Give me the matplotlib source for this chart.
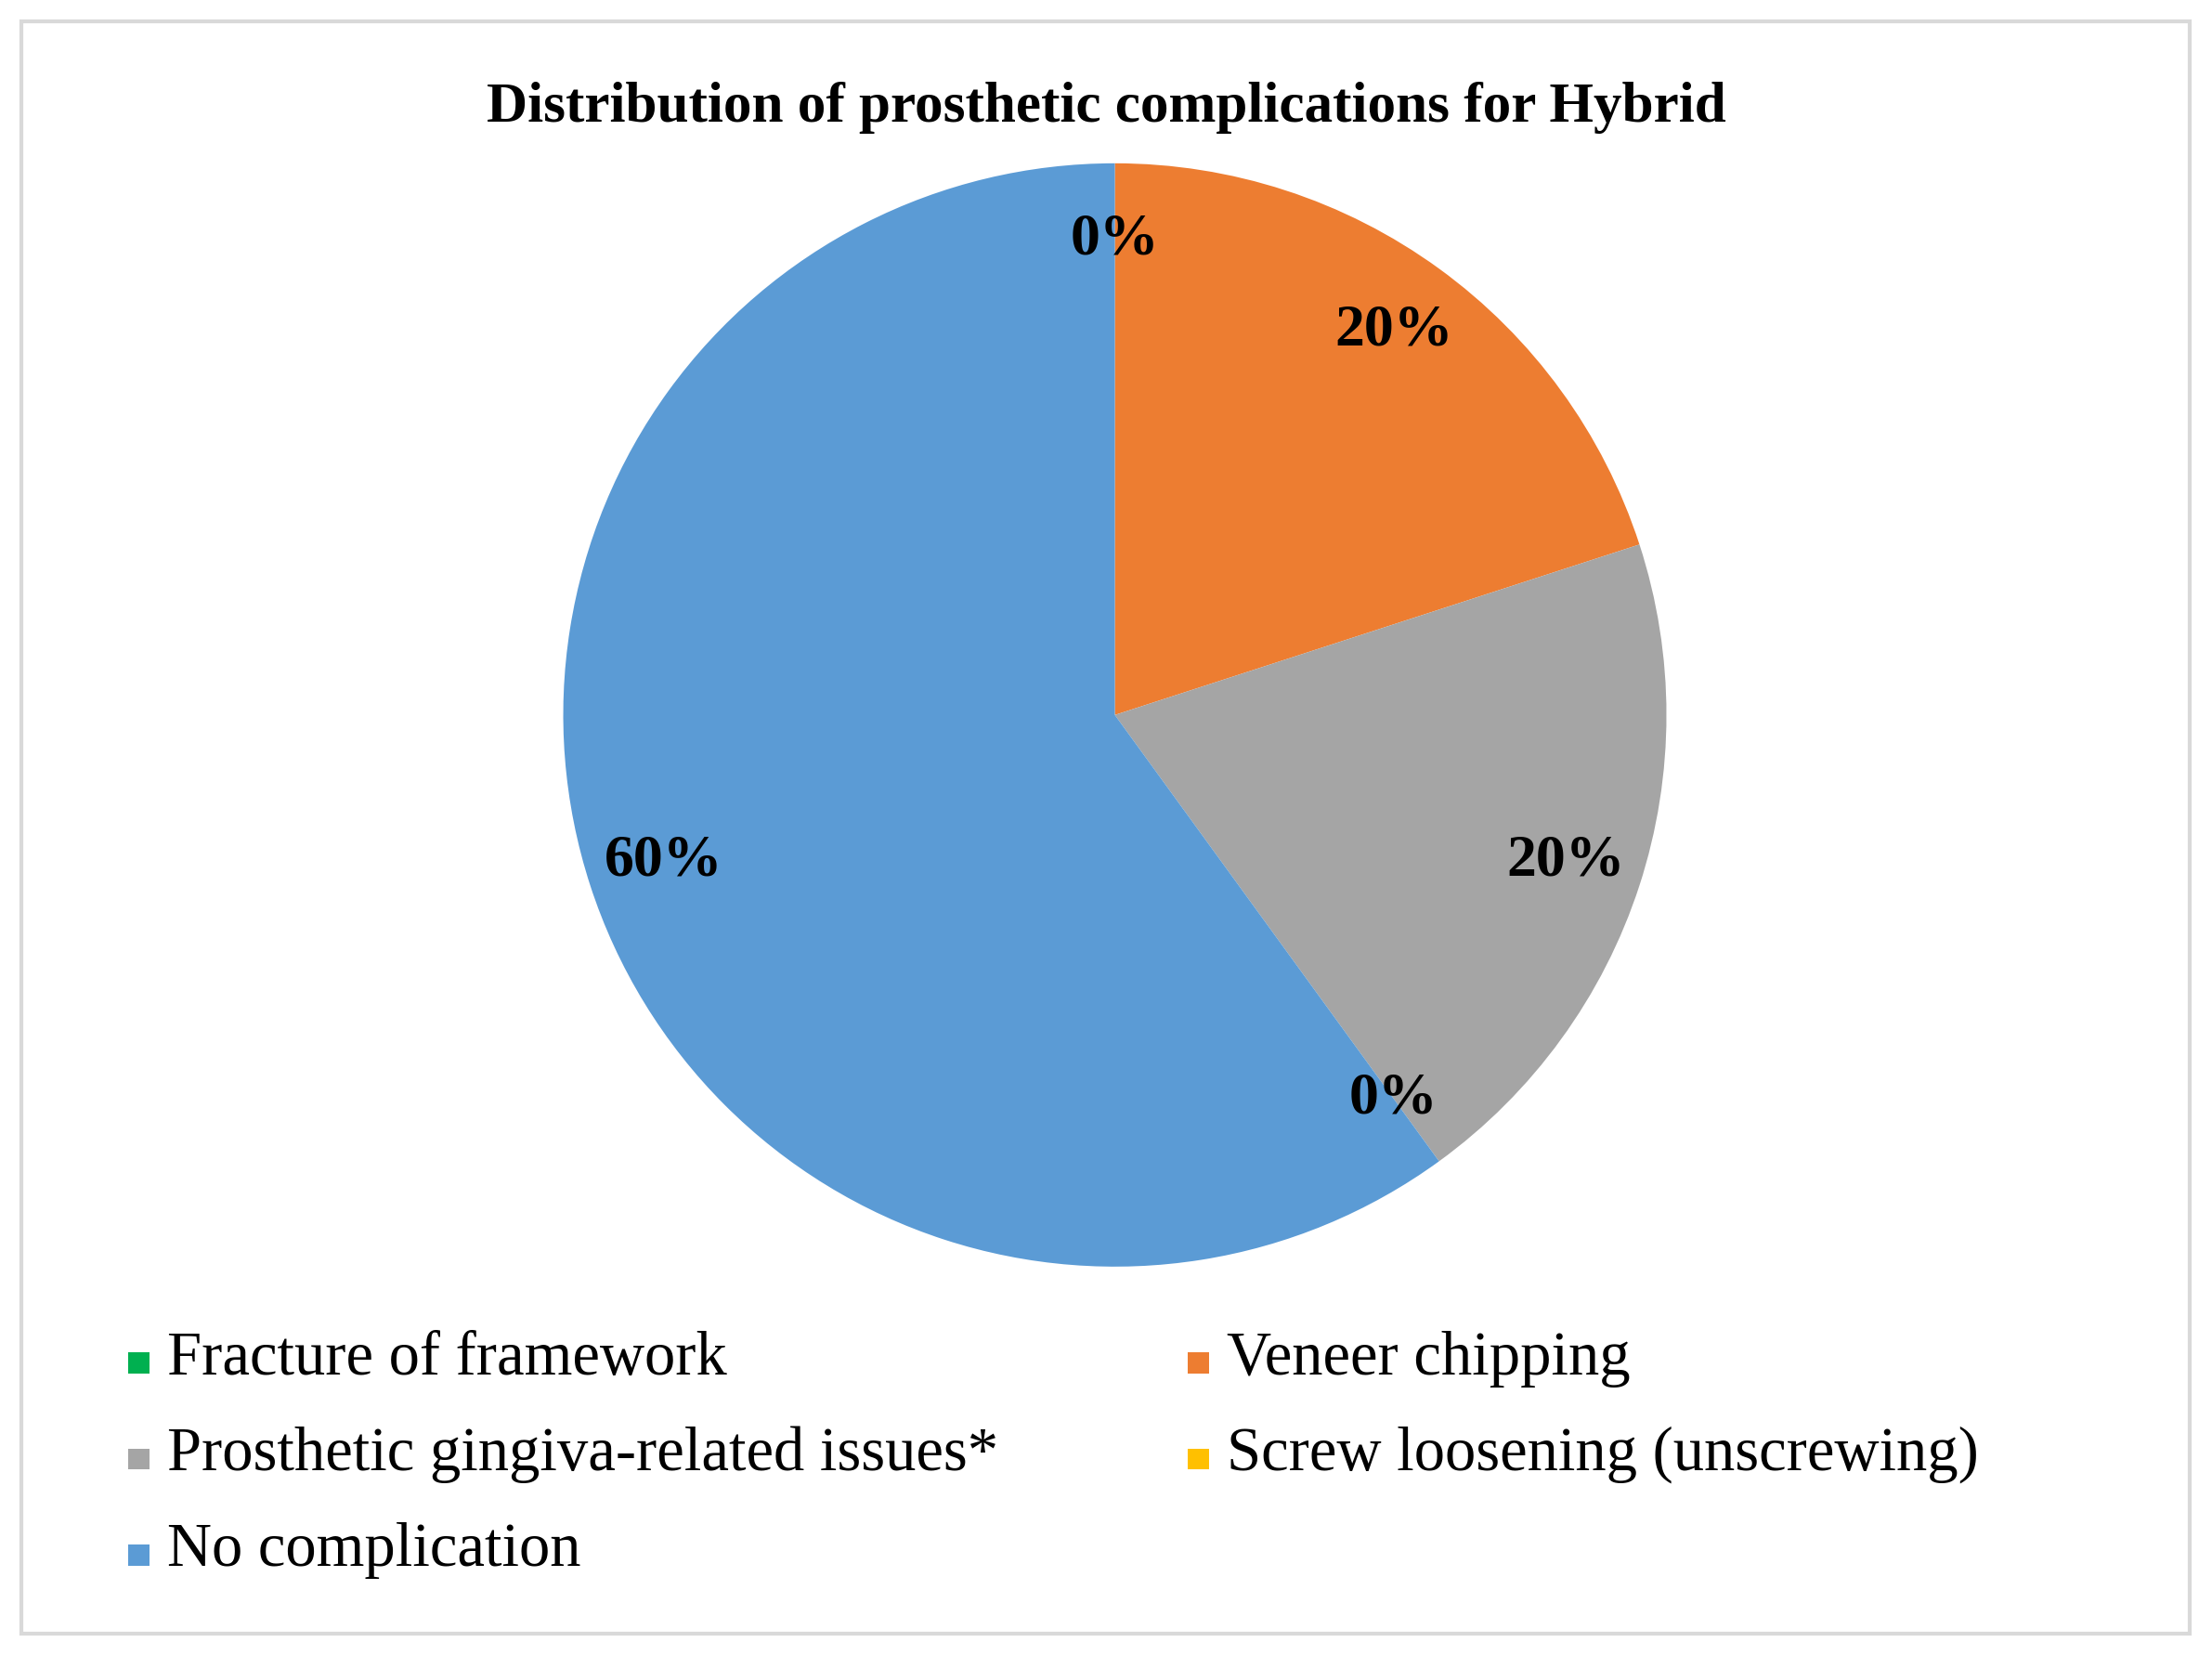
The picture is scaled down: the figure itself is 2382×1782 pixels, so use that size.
import matplotlib
matplotlib.use("Agg")
import matplotlib.pyplot as plt
from matplotlib.patches import Rectangle

categories = ["Fracture of framework", "Veneer chipping", "Prosthetic gingiva-related issues*",
              "Screw loosening (unscrewing)", "No complication"]
values = [0, 20, 20, 0, 60]
colors = ["#00B050", "#ED7D31", "#A5A5A5", "#FFC000", "#5B9BD5"]
title = "Distribution of prosthetic complications for Hybrid"

plt.rcParams['font.family'] = ['Liberation Serif', 'DejaVu Serif']
W, H = 2382, 1782
fig = plt.figure(figsize=(W/200, H/200), dpi=200)
fig.patches.append(Rectangle((0.0096, 0.013), 0.9804, 0.974, transform=fig.transFigure,
                             fill=False, edgecolor="#D9D9D9", linewidth=1.5))
r = 594
cx, cy = 0.504, 0.568
ax = fig.add_axes([cx - r/W, cy - r/H, 2*r/W, 2*r/H])
ax.pie(values, colors=colors, startangle=90, counterclock=False,
       autopct='%1.0f%%', pctdistance=0.86,
       textprops=dict(fontsize=23, fontweight='bold', color='black'),
       wedgeprops=dict(linewidth=0))
ax.set_xlim(-1, 1); ax.set_ylim(-1, 1)
ax.set_aspect('equal')
fig.text(0.5, 0.935, title, ha='center', va='center', fontsize=22, fontweight='bold')

order = [0, 1, 2, 3, 4]
pos = [(0.058, 0.179), (0.537, 0.179), (0.058, 0.121), (0.537, 0.121), (0.058, 0.063)]
for i, (x, y) in zip(order, pos):
    fig.patches.append(Rectangle((x, y - 0.009), 0.0095, 0.0127, transform=fig.transFigure,
                                 facecolor=colors[i], edgecolor='none'))
    fig.text(x + 0.0175, y, categories[i], ha='left', va='center', fontsize=24)

fig.savefig("out.png", dpi=200)
